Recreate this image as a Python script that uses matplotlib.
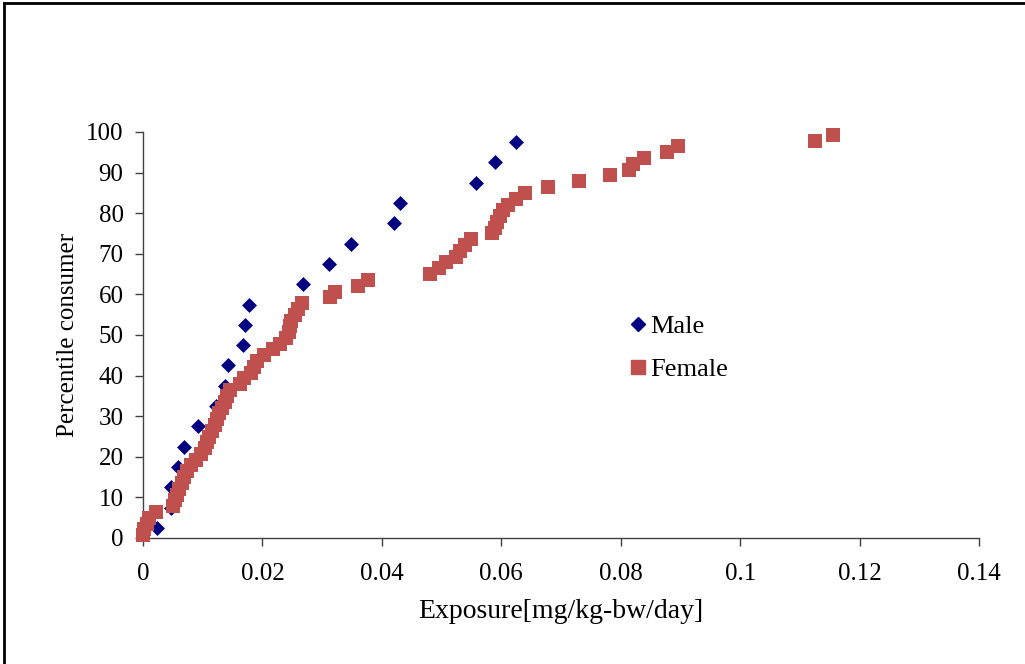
import matplotlib
matplotlib.use("Agg")
import matplotlib.pyplot as plt
from matplotlib.lines import Line2D

# ---- data ----
male_x = [0.0023, 0.0047, 0.0047, 0.0059, 0.0068, 0.0092, 0.0122, 0.0138, 0.0143, 0.0168,
          0.0171, 0.0178, 0.0268, 0.0312, 0.0348, 0.0421, 0.0431, 0.0558, 0.0590, 0.0624]
male_y = [2.5, 7.5, 12.5, 17.5, 22.5, 27.5, 32.5, 37.5, 42.5, 47.5,
          52.5, 57.5, 62.5, 67.5, 72.5, 77.5, 82.5, 87.5, 92.5, 97.5]

female_x = [0.0000, 0.0002, 0.0006, 0.0010, 0.0022, 0.0050, 0.0053, 0.0057, 0.0061, 0.0065,
            0.0069, 0.0074, 0.0080, 0.0088, 0.0097, 0.0103, 0.0107, 0.0111, 0.0116, 0.0120,
            0.0124, 0.0128, 0.0132, 0.0137, 0.0141, 0.0146, 0.0163, 0.0169, 0.0181, 0.0186,
            0.0191, 0.0202, 0.0218, 0.0230, 0.0240, 0.0244, 0.0246, 0.0248, 0.0254, 0.0260,
            0.0266, 0.0313, 0.0322, 0.0360, 0.0376, 0.0481, 0.0495, 0.0508, 0.0525, 0.0531,
            0.0539, 0.0549, 0.0584, 0.0589, 0.0593, 0.0598, 0.0603, 0.0612, 0.0624, 0.0640,
            0.0679, 0.0730, 0.0782, 0.0814, 0.0821, 0.0839, 0.0877, 0.0896, 0.1126, 0.1156]
female_y = [0.71, 2.14, 3.57, 5.00, 6.43, 7.86, 9.29, 10.71, 12.14, 13.57,
            15.00, 16.43, 17.86, 19.29, 20.71, 22.14, 23.57, 25.00, 26.43, 27.86,
            29.29, 30.71, 32.14, 33.57, 35.00, 36.43, 37.86, 39.29, 40.71, 42.14,
            43.57, 45.00, 46.43, 47.86, 49.29, 50.71, 52.14, 53.57, 55.00, 56.43,
            57.86, 59.29, 60.71, 62.14, 63.57, 65.00, 66.43, 67.86, 69.29, 70.71,
            72.14, 73.57, 75.00, 76.43, 77.86, 79.29, 80.71, 82.14, 83.57, 85.00,
            86.43, 87.86, 89.29, 90.71, 92.14, 93.57, 95.00, 96.43, 97.86, 99.29]

x_ticks = [0, 0.02, 0.04, 0.06, 0.08, 0.1, 0.12, 0.14]
x_tick_labels = ["0", "0.02", "0.04", "0.06", "0.08", "0.1", "0.12", "0.14"]
y_ticks = [0, 10, 20, 30, 40, 50, 60, 70, 80, 90, 100]

male_color = "#000080"
female_color = "#C0504D"

plt.rcParams["font.family"] = ["Liberation Serif", "DejaVu Serif"]

fig = plt.figure(figsize=(10.25, 6.64), dpi=100)
ax = fig.add_axes([143 / 1025, 1 - 538 / 664, (979 - 143) / 1025, (538 - 132) / 664])

ax.scatter(female_x, female_y, marker="s", s=10.5 ** 2, color=female_color,
           linewidths=0, clip_on=False, zorder=3, label="Female")
ax.scatter(male_x, male_y, marker="D", s=7.6 ** 2, color=male_color,
           linewidths=0, clip_on=False, zorder=2, label="Male")

ax.set_xlim(0, 0.14)
ax.set_ylim(0, 100)
ax.set_xticks(x_ticks)
ax.set_xticklabels(x_tick_labels)
ax.set_yticks(y_ticks)

for s in ["top", "right"]:
    ax.spines[s].set_visible(False)
for s in ["left", "bottom"]:
    ax.spines[s].set_color("#404040")
    ax.spines[s].set_linewidth(1.0)

ax.tick_params(axis="both", direction="out", length=6, width=1.0, color="#404040",
               labelsize=18, labelcolor="black")
ax.tick_params(axis="x", pad=12)
ax.tick_params(axis="y", pad=8)

ax.set_xlabel("Exposure[mg/kg-bw/day]", fontsize=20, labelpad=10)
ax.set_ylabel("Percentile consumer", fontsize=18, labelpad=5)

handles = [Line2D([], [], marker="D", linestyle="none", color=male_color, markersize=7.6),
           Line2D([], [], marker="s", linestyle="none", color=female_color, markersize=10.5)]
leg = ax.legend(handles, ["Male", "Female"], loc="upper left",
                bbox_to_anchor=((620 - 143) / (979 - 143), (538 - 304) / (538 - 132)),
                frameon=False, fontsize=19, handlelength=0.6, handletextpad=0.15,
                labelspacing=0.75, borderaxespad=0)

# figure border (left and top)
fig.add_artist(Line2D([4 / 1025, 4 / 1025], [0, 1 - 3 / 664], color="black", lw=2,
                      transform=fig.transFigure))
fig.add_artist(Line2D([4 / 1025, 1], [1 - 3 / 664, 1 - 3 / 664], color="black", lw=2,
                      transform=fig.transFigure))

fig.savefig("out.png", dpi=100)
